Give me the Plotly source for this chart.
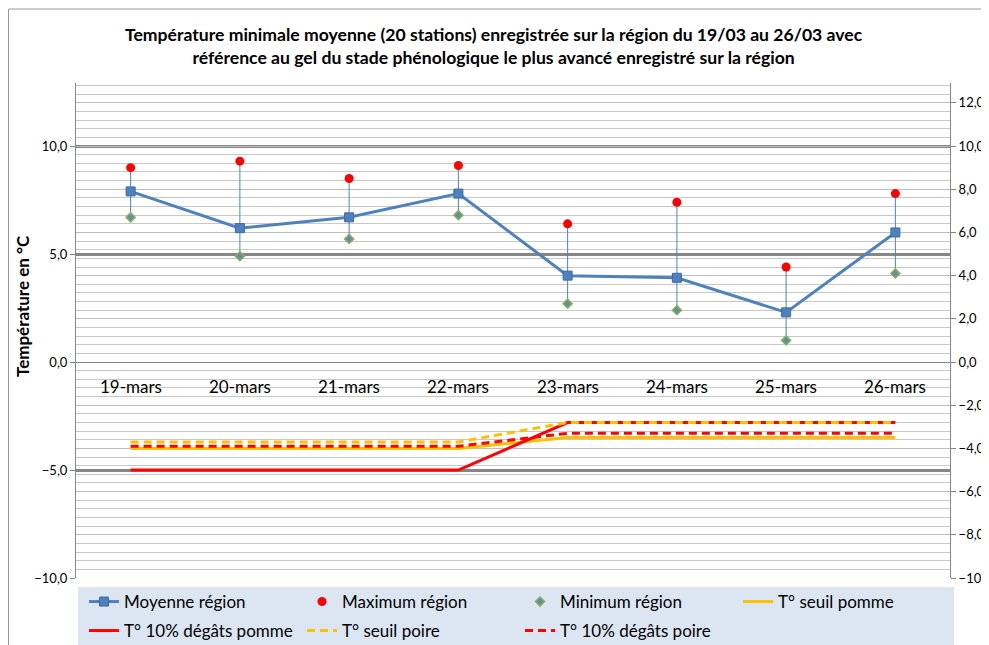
import plotly.graph_objects as go

# ---- data ----
categories = ["19-mars", "20-mars", "21-mars", "22-mars", "23-mars", "24-mars", "25-mars", "26-mars"]
moyenne = [7.9, 6.2, 6.7, 7.8, 4.0, 3.9, 2.3, 6.0]
maximum = [9.0, 9.3, 8.5, 9.1, 6.4, 7.4, 4.4, 7.8]
minimum = [6.7, 4.9, 5.7, 6.8, 2.7, 2.4, 1.0, 4.1]
seuil_pomme = [-4.0, -4.0, -4.0, -4.0, -3.5, -3.5, -3.5, -3.5]
degats_pomme = [-5.0, -5.0, -5.0, -5.0, -2.8, -2.8, -2.8, -2.8]
seuil_poire = [-3.7, -3.7, -3.7, -3.7, -2.8, -2.8, -2.8, -2.8]
degats_poire = [-3.9, -3.9, -3.9, -3.9, -3.3, -3.3, -3.3, -3.3]

title_text = ("<b>Température minimale moyenne (20 stations) enregistrée sur la région du 19/03 au 26/03 avec<br>"
              "référence au gel du stade phénologique le plus avancé enregistré sur la région</b>")

# the page places the figure 8px from the top-left corner of the window
OFF = 8
W, H = 989 - OFF, 645 - OFF
# plot area in screen pixels: x 76..950, y 83..578
L = 76 - OFF
R = W - (950 - OFF)
T = 83 - OFF
B = H - (578 - OFF)
YMIN, YMAX = -10, 12.92

FONT = "Lato, 'Open Sans', sans-serif"
BLUE = "#4F81BD"
RED = "#FF0000"
ORANGE = "#FFC000"

x = list(range(len(categories)))
err_plus = [mx - m for mx, m in zip(maximum, moyenne)]
err_minus = [m - mn for m, mn in zip(moyenne, minimum)]

fig = go.Figure()

fig.add_trace(go.Scatter(
    x=x, y=moyenne, name="Moyenne région", mode="lines+markers",
    line=dict(color=BLUE, width=3),
    marker=dict(symbol="square", size=9, color=BLUE, line=dict(color="#3A6AA5", width=1)),
    error_y=dict(type="data", symmetric=False, array=err_plus, arrayminus=err_minus,
                 color=BLUE, thickness=1, width=0),
    legend="legend"))
fig.add_trace(go.Scatter(
    x=x, y=maximum, name="Maximum région", mode="markers",
    marker=dict(symbol="circle", size=9, color=RED), legend="legend"))
fig.add_trace(go.Scatter(
    x=x, y=minimum, name="Minimum région", mode="markers",
    marker=dict(symbol="diamond", size=7, color="#5F8DB0", line=dict(color="#8DB050", width=1.5)),
    legend="legend"))
fig.add_trace(go.Scatter(
    x=x, y=seuil_pomme, name="T° seuil pomme", mode="lines", yaxis="y2",
    line=dict(color=ORANGE, width=3), legend="legend"))
fig.add_trace(go.Scatter(
    x=x, y=degats_pomme, name="T° 10% dégâts pomme", mode="lines", yaxis="y2",
    line=dict(color=RED, width=3), legend="legend2"))
fig.add_trace(go.Scatter(
    x=x, y=seuil_poire, name="T° seuil poire", mode="lines", yaxis="y2",
    line=dict(color=ORANGE, width=3, dash="8px,5px"), legend="legend2"))
fig.add_trace(go.Scatter(
    x=x, y=degats_poire, name="T° 10% dégâts poire", mode="lines", yaxis="y2",
    line=dict(color=RED, width=3, dash="8px,5px"), legend="legend2"))

# category labels just below the 0 line (axis crosses at 0)
for i, c in enumerate(categories):
    fig.add_annotation(x=i, y=0, xref="x", yref="y", text=c, showarrow=False,
                       yshift=-24, font=dict(family=FONT, size=17, color="#000000"))

ph = H - T - B
pw = W - L - R
def px_x(p):  # screen px -> paper fraction
    return (p - OFF - L) / pw
def px_y(p):
    return (H - B - (p - OFF)) / ph

# legend background
fig.add_shape(type="rect", xref="paper", yref="paper",
              x0=px_x(78), x1=px_x(954), y0=px_y(587), y1=px_y(650),
              fillcolor="#DCE6F2", line=dict(width=0), layer="below")
# outer chart border
fig.add_shape(type="rect", xref="paper", yref="paper",
              x0=px_x(8.5), x1=px_x(995), y0=px_y(9), y1=px_y(660),
              fillcolor="rgba(0,0,0,0)", line=dict(color="#9A9A9A", width=1), layer="below")

# title
fig.add_annotation(xref="paper", yref="paper", x=px_x(494), y=px_y(46), text=title_text,
                   showarrow=False, xanchor="center", yanchor="middle",
                   font=dict(family=FONT, size=17.6, color="#000000"))
# y axis title
fig.add_annotation(xref="paper", yref="paper", x=px_x(22), y=px_y(306), text="<b>Température en °C</b>",
                   showarrow=False, textangle=-90, xanchor="center", yanchor="middle",
                   font=dict(family=FONT, size=17, color="#000000"))

legend_common = dict(orientation="h", bgcolor="rgba(0,0,0,0)", borderwidth=0,
                     font=dict(family=FONT, size=17, color="#000000"),
                     entrywidth=173, entrywidthmode="pixels", itemwidth=30,
                     xanchor="left", yanchor="middle")

fig.update_layout(
    width=W, height=H,
    margin=dict(l=L, r=R, t=T, b=B, autoexpand=False),
    paper_bgcolor="white", plot_bgcolor="white",
    separators=", ",
    showlegend=True,
    legend=dict(x=px_x(84), y=px_y(602), **legend_common),
    legend2=dict(x=px_x(84), y=px_y(631), **legend_common),
    xaxis=dict(range=[-0.5, 7.5], showticklabels=False, showgrid=False, zeroline=False,
               showline=False, ticks=""),
    yaxis=dict(range=[YMIN, YMAX], tickmode="linear", tick0=-10, dtick=5, tickformat=".1f",
               showgrid=True, gridcolor="#868686", gridwidth=2.5,
               zeroline=True, zerolinecolor="#868686", zerolinewidth=1,
               showline=True, linecolor="#868686", linewidth=1,
               ticks="outside", ticklen=5, tickcolor="#868686",
               tickfont=dict(family=FONT, size=13, color="#000000")),
    yaxis2=dict(range=[YMIN, YMAX], overlaying="y", side="right", tickmode="linear",
                tick0=-10, dtick=2, tickformat=".1f",
                showgrid=True, gridcolor="#BDBDBD", gridwidth=1,
                minor=dict(dtick=0.4, tick0=-10, showgrid=True, gridcolor="#C8C8C8", gridwidth=1),
                zeroline=False,
                showline=True, linecolor="#868686", linewidth=1,
                ticks="outside", ticklen=5, tickcolor="#868686",
                tickfont=dict(family=FONT, size=13, color="#000000")),
)

fig.write_html("out.html")
